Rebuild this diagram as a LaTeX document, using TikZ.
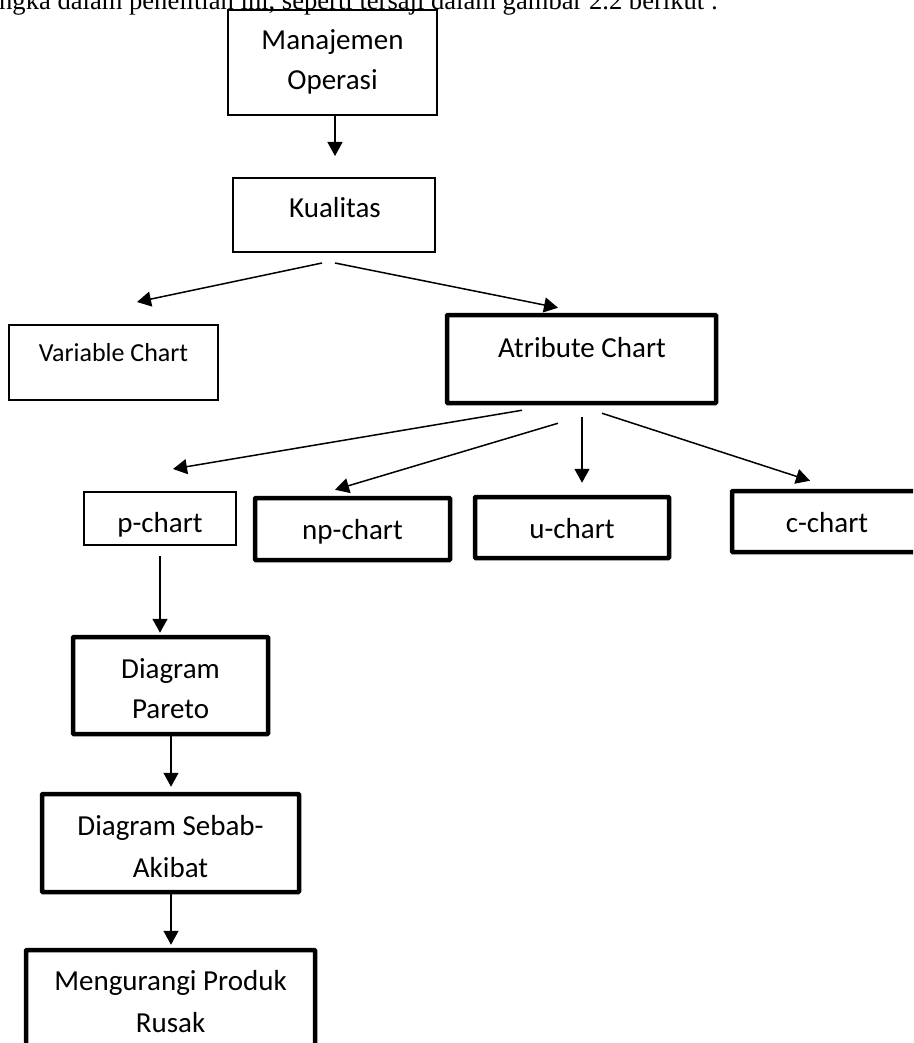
\documentclass[tikz,border=0pt]{standalone}
\usepackage{fontspec}
\setmainfont{Carlito}
\newfontfamily\tnr{Liberation Serif}
\usetikzlibrary{arrows.meta,calc}
\tikzset{
  thinbox/.style={draw=black, line width=2pt, inner sep=0pt, fill=none},
  thickbox/.style={draw=black, line width=4.5pt, inner sep=0pt, rounded corners=0.8pt},
  lbl/.style={inner sep=0pt, font=\fontsize{29}{40}\selectfont, anchor=base},
  arr/.style={line width=1.5pt, -{Triangle[length=14pt,width=15pt]}},
  plain/.style={line width=1.5pt}
}
\begin{document}
\begin{tikzpicture}[x=1pt,y=-1pt]
\useasboundingbox (0,0) rectangle (913,1043);
\clip (0,0) rectangle (913,1043);
\fill[white] (0,0) rectangle (913,1043);
% top running text
\node[inner sep=0pt, anchor=base west] (intro) at (-1,9.5) {\resizebox{719pt}{!}{\tnr\fontsize{24}{28}\selectfont ngka dalam penelitian ini, seperti tersaji dalam gambar 2.2 berikut :}};
% boxes
\node[thinbox, line width=2.5pt, minimum width=209pt, minimum height=105pt] (man) at (332.5,62.5) {};
\node[lbl] (manA) at (332.5,50) {Manajemen};
\node[lbl] (manB) at (332.5,90) {Operasi};
\node[thinbox, minimum width=202pt, minimum height=74pt] (kual) at (334,215) {};
\node[lbl] (kualT) at (335,217) {Kualitas};
\node[thinbox, minimum width=209pt, minimum height=75pt] (var) at (113.5,362.5) {};
\node[lbl, font=\fontsize{26}{34}\selectfont] (varT) at (113.5,361) {Variable Chart};
\node[thickbox, minimum width=269pt, minimum height=88pt] (atr) at (581.5,359) {};
\node[lbl] (atrT) at (582,357) {Atribute Chart};
\node[thinbox, minimum width=152pt, minimum height=53pt] (pc) at (160,518.5) {};
\node[lbl] (pcT) at (160,532) {p-chart};
\node[thickbox, minimum width=195pt, minimum height=62pt] (np) at (352.5,529) {};
\node[lbl] (npT) at (352.5,539) {np-chart};
\node[thickbox, minimum width=194pt, minimum height=61pt] (uc) at (572,527.5) {};
\node[lbl] (ucT) at (572,538) {u-chart};
\node[thickbox, minimum width=190pt, minimum height=61pt] (cc) at (827,521.5) {};
\node[lbl] (ccT) at (827,532) {c-chart};
\node[thickbox, minimum width=195pt, minimum height=97pt] (par) at (170.5,685.5) {};
\node[lbl] (parA) at (170.5,678) {Diagram};
\node[lbl] (parB) at (170.5,718) {Pareto};
\node[thickbox, minimum width=257pt, minimum height=98pt] (seb) at (170.5,843) {};
\node[lbl] (sebA) at (170.5,835) {Diagram Sebab-};
\node[lbl] (sebB) at (170.5,877) {Akibat};
\node[thickbox, minimum width=289pt, minimum height=110pt] (men) at (170.5,1005) {};
\node[lbl] (menA) at (170.5,990) {Mengurangi Produk};
\node[lbl] (menB) at (170.5,1032) {Rusak};
% connectors
\draw[arr] ($(man.south)+(2.5,0)$) -- ($(kual.north)+(1,-21)$);
\draw[arr] ($(kual.south)+(-12,10)$) -- ($(var.north)+(23.5,-22)$);
\draw[arr] ($(kual.south)+(1,10)$) -- ($(atr.north)+(-23.5,-5)$);
\draw[arr] ($(atr.south)+(-59.5,5)$) -- ($(pc.north)+(13,-22)$);
\draw[arr] ($(atr.south)+(-23.5,18)$) -- ($(np.north)+(-17.5,-6)$);
\draw[arr] ($(atr.south)+(0.5,12)$) -- ($(uc.north)+(10,-12)$);
\draw[arr] ($(atr.south)+(20.5,8)$) -- ($(cc.north)+(-17,-8)$);
\draw[arr] ($(pc.south)+(0,10)$) -- ($(par.north)+(-10.5,-2)$);
\draw[arr] ($(par.south)+(0.5,0)$) -- ($(seb.north)+(0.5,-5)$);
\draw[arr] ($(seb.south)+(0.5,0)$) -- ($(men.north)+(0.5,-3)$);
\end{tikzpicture}
\end{document}
